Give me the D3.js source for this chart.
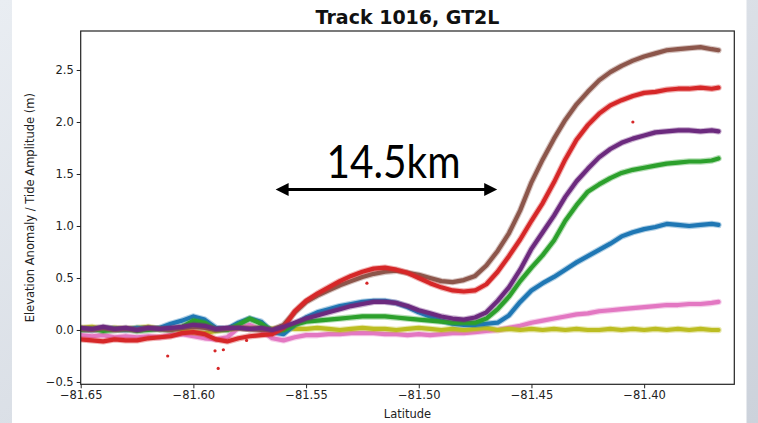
<!DOCTYPE html>
<html>
<head>
<meta charset="utf-8">
<script src="https://cdn.jsdelivr.net/npm/d3@7/dist/d3.min.js"></script>
<style>
  html, body { margin: 0; padding: 0; overflow: hidden; background: #fff; }
  svg { display: block; }
</style>
</head>
<body>
<svg id="chart" width="758" height="423"></svg>
<script>
// Along-track latitude samples (degrees)
const latitude = [
  -81.650, -81.645, -81.640, -81.635, -81.630, -81.625, -81.620, -81.615, -81.610, -81.605,
  -81.600, -81.595, -81.590, -81.585, -81.580, -81.575, -81.570, -81.565, -81.560, -81.555,
  -81.550, -81.545, -81.540, -81.535, -81.530, -81.525, -81.520, -81.515, -81.510, -81.505,
  -81.500, -81.495, -81.490, -81.485, -81.480, -81.475, -81.470, -81.465, -81.460, -81.455,
  -81.450, -81.445, -81.440, -81.435, -81.430, -81.425, -81.420, -81.415, -81.410, -81.405,
  -81.400, -81.395, -81.390, -81.385, -81.380, -81.375, -81.370, -81.367
];

// Elevation anomaly per repeat pass (m)
const passPink = [
  -0.05, -0.06, -0.05, -0.07, -0.06, -0.07, -0.06, -0.07, -0.05, -0.04,
  -0.06, -0.08, -0.09, -0.07, 0.02, 0.05, 0.00, -0.08, -0.10, -0.07,
  -0.05, -0.05, -0.04, -0.04, -0.03, -0.03, -0.03, -0.04, -0.04, -0.05,
  -0.04, -0.05, -0.04, -0.03, -0.03, -0.02, -0.01, 0.00, 0.02, 0.04,
  0.07, 0.09, 0.11, 0.13, 0.15, 0.16, 0.18, 0.19, 0.20, 0.21,
  0.22, 0.23, 0.24, 0.24, 0.25, 0.25, 0.26, 0.27
];
const passOlive = [
  0.02, 0.03, 0.01, 0.02, 0.01, 0.02, 0.03, 0.01, 0.02, 0.00,
  -0.02, -0.03, -0.01, 0.01, 0.02, 0.01, 0.02, 0.01, 0.02, 0.01,
  0.01, 0.02, 0.01, 0.00, 0.01, 0.02, 0.01, 0.01, 0.00, 0.01,
  0.02, 0.01, 0.00, 0.01, 0.00, 0.01, 0.02, 0.00, 0.01, 0.00,
  0.01, 0.00, 0.01, 0.00, 0.01, 0.00, 0.00, 0.01, 0.00, 0.01,
  0.00, 0.01, 0.00, 0.01, 0.00, 0.01, 0.00, 0.00
];
const passBlue = [
  0.01, 0.00, 0.02, 0.01, 0.00, 0.02, 0.01, 0.02, 0.06, 0.09,
  0.13, 0.10, 0.02, 0.01, 0.07, 0.11, 0.08, -0.02, -0.04, 0.05,
  0.12, 0.17, 0.20, 0.23, 0.25, 0.27, 0.28, 0.28, 0.26, 0.22,
  0.17, 0.13, 0.09, 0.06, 0.05, 0.05, 0.06, 0.07, 0.14, 0.27,
  0.38, 0.45, 0.51, 0.58, 0.65, 0.71, 0.77, 0.83, 0.90, 0.94,
  0.97, 0.99, 1.02, 1.01, 1.00, 1.01, 1.02, 1.01
];
const passGreen = [
  0.00, 0.01, -0.01, 0.00, 0.01, -0.01, 0.00, 0.01, 0.00, 0.03,
  0.09, 0.07, 0.00, 0.00, 0.05, 0.11, 0.06, -0.01, 0.00, 0.05,
  0.08, 0.09, 0.10, 0.11, 0.12, 0.13, 0.13, 0.13, 0.12, 0.11,
  0.10, 0.09, 0.08, 0.07, 0.07, 0.07, 0.11, 0.20, 0.32, 0.47,
  0.60, 0.72, 0.86, 1.05, 1.20, 1.33, 1.40, 1.46, 1.51, 1.54,
  1.56, 1.58, 1.60, 1.61, 1.62, 1.62, 1.63, 1.65
];
const passBrown = [
  0.01, 0.00, 0.02, 0.00, 0.01, 0.00, 0.02, 0.01, 0.00, 0.02,
  0.03, 0.02, 0.00, 0.01, 0.02, 0.01, 0.00, 0.00, 0.05, 0.17,
  0.27, 0.33, 0.38, 0.43, 0.47, 0.51, 0.54, 0.56, 0.57, 0.55,
  0.53, 0.50, 0.47, 0.46, 0.48, 0.52, 0.62, 0.76, 0.93, 1.15,
  1.42, 1.64, 1.84, 2.02, 2.17, 2.29, 2.40, 2.48, 2.54, 2.59,
  2.63, 2.66, 2.69, 2.70, 2.71, 2.72, 2.70, 2.69
];
const passRed = [
  -0.09, -0.10, -0.11, -0.09, -0.10, -0.10, -0.08, -0.07, -0.06, -0.03,
  -0.02, -0.04, -0.09, -0.11, -0.08, -0.06, -0.05, -0.04, 0.02, 0.18,
  0.28, 0.35, 0.41, 0.47, 0.52, 0.56, 0.59, 0.60, 0.58, 0.55,
  0.50, 0.45, 0.41, 0.38, 0.37, 0.38, 0.44, 0.56, 0.71, 0.87,
  1.05, 1.22, 1.42, 1.64, 1.83, 1.97, 2.08, 2.16, 2.21, 2.25,
  2.28, 2.29, 2.31, 2.32, 2.32, 2.33, 2.32, 2.33
];
const passPurple = [
  0.02, 0.01, 0.03, 0.01, 0.02, 0.00, 0.02, 0.01, 0.02, 0.03,
  0.05, 0.04, 0.01, 0.02, 0.02, 0.01, 0.02, 0.00, 0.03, 0.07,
  0.11, 0.14, 0.17, 0.20, 0.23, 0.25, 0.27, 0.27, 0.26, 0.23,
  0.19, 0.16, 0.13, 0.11, 0.10, 0.12, 0.17, 0.28, 0.41, 0.58,
  0.78, 0.94, 1.10, 1.28, 1.43, 1.55, 1.66, 1.74, 1.80, 1.84,
  1.87, 1.90, 1.91, 1.92, 1.92, 1.91, 1.92, 1.91
];

// Isolated returns off the red pass
const redOutlierLat = [-81.6114, -81.5890, -81.5904, -81.5867, -81.5764, -81.5230, -81.4050];
const redOutlierVal = [-0.25, -0.37, -0.20, -0.19, -0.10, 0.45, 2.00];

// Axis ticks
const xTicks = [-81.65, -81.60, -81.55, -81.50, -81.45, -81.40];
const yTicks = [-0.5, 0.0, 0.5, 1.0, 1.5, 2.0, 2.5];

const titleText = "Track 1016, GT2L";
const xLabel = "Latitude";
const yLabel = "Elevation Anomaly / Tide Amplitude (m)";
const spanLabel = "14.5km";
const spanLat = [-81.5635, -81.4652];
const spanLevel = 1.35;

// Passes in drawing order (later ones sit on top)
const passes = [
  { values: passPink,   color: "#e377c2" },
  { values: passOlive,  color: "#bcbd22" },
  { values: passBlue,   color: "#1f77b4" },
  { values: passGreen,  color: "#2ca02c" },
  { values: passBrown,  color: "#8c564b" },
  { values: passRed,    color: "#d62728" },
  { values: passPurple, color: "#6c2a7e" }
];

const W = 758, H = 423;
const plot = { left: 80.7, right: 734.3, top: 31, bottom: 384.3 };

const svg = d3.select("#chart");

// Slide backdrop and white figure panel
const defs = svg.append("defs");
const bg = defs.append("linearGradient").attr("id", "backdrop").attr("x1", 0).attr("x2", 1).attr("y1", 0).attr("y2", 1);
bg.append("stop").attr("offset", "0%").attr("stop-color", "#e9edf2");
bg.append("stop").attr("offset", "100%").attr("stop-color", "#ccd2db");
svg.append("rect").attr("width", W).attr("height", H).attr("fill", "url(#backdrop)");
svg.append("rect").attr("x", 12).attr("y", 0).attr("width", 734.5).attr("height", H).attr("fill", "#ffffff");

defs.append("clipPath").attr("id", "plotClip")
  .append("rect")
  .attr("x", plot.left).attr("y", plot.top)
  .attr("width", plot.right - plot.left).attr("height", plot.bottom - plot.top);

const x = d3.scaleLinear().domain([-81.65, -81.36]).range([plot.left, plot.right]);
const y = d3.scaleLinear().domain([-0.5223, 2.875]).range([plot.bottom, plot.top]);

const minus = s => s.replace("-", "\u2212");
const font = "DejaVu Sans, sans-serif";

// Data bands: a soft halo under a solid core, like dense overlapping markers
const gData = svg.append("g").attr("clip-path", "url(#plotClip)");
const line = d3.line().x((d, i) => x(latitude[i])).y(d => y(d));
passes.forEach(p => {
  gData.append("path")
    .datum(p.values)
    .attr("d", line)
    .attr("fill", "none")
    .attr("stroke", p.color)
    .attr("stroke-opacity", 0.35)
    .attr("stroke-width", 6.4)
    .attr("stroke-linejoin", "round")
    .attr("stroke-linecap", "round");
  gData.append("path")
    .datum(p.values)
    .attr("d", line)
    .attr("fill", "none")
    .attr("stroke", p.color)
    .attr("stroke-width", 4.2)
    .attr("stroke-linejoin", "round")
    .attr("stroke-linecap", "round");
});
gData.selectAll("circle.outlier")
  .data(redOutlierLat)
  .join("circle")
  .attr("class", "outlier")
  .attr("cx", d => x(d))
  .attr("cy", (d, i) => y(redOutlierVal[i]))
  .attr("r", 1.6)
  .attr("fill", "#d62728");

// Axes
const xAxis = d3.axisBottom(x).tickValues(xTicks).tickSize(4).tickPadding(3)
  .tickFormat(d => minus(d3.format(".2f")(d)));
const yAxis = d3.axisLeft(y).tickValues(yTicks).tickSize(4).tickPadding(3)
  .tickFormat(d => minus(d3.format(".1f")(d)));

const gx = svg.append("g").attr("transform", `translate(0,${plot.bottom})`).call(xAxis);
const gy = svg.append("g").attr("transform", `translate(${plot.left},0)`).call(yAxis);
[gx, gy].forEach(g => {
  g.select(".domain").remove();
  g.selectAll(".tick line").attr("stroke", "#222").attr("stroke-width", 1);
  g.selectAll(".tick text").attr("fill", "#222").style("font-family", font).style("font-size", "11.5px");
});

// Plot frame
svg.append("rect")
  .attr("x", plot.left).attr("y", plot.top)
  .attr("width", plot.right - plot.left).attr("height", plot.bottom - plot.top)
  .attr("fill", "none").attr("stroke", "#222").attr("stroke-width", 1.2);

// Titles
svg.append("text")
  .attr("x", (plot.left + plot.right) / 2).attr("y", 24)
  .attr("text-anchor", "middle")
  .style("font-family", font).style("font-size", "19px").style("font-weight", "bold")
  .attr("fill", "#111")
  .text(titleText);

svg.append("text")
  .attr("x", (plot.left + plot.right) / 2).attr("y", 418)
  .attr("text-anchor", "middle")
  .style("font-family", font).style("font-size", "11.5px")
  .attr("fill", "#222")
  .text(xLabel);

svg.append("text")
  .attr("transform", `translate(34,${(plot.top + plot.bottom) / 2}) rotate(-90)`)
  .attr("text-anchor", "middle")
  .style("font-family", font).style("font-size", "11.5px")
  .attr("fill", "#222")
  .text(yLabel);

// Span annotation: double-headed arrow with distance label
const ax0 = x(spanLat[0]), ax1 = x(spanLat[1]), ay = y(spanLevel);
const head = 13, half = 6.5;
svg.append("line")
  .attr("x1", ax0 + head - 1).attr("x2", ax1 - head + 1)
  .attr("y1", ay).attr("y2", ay)
  .attr("stroke", "#000").attr("stroke-width", 3);
svg.append("path")
  .attr("d", `M${ax0},${ay} L${ax0 + head},${ay - half} L${ax0 + head},${ay + half} Z`)
  .attr("fill", "#000");
svg.append("path")
  .attr("d", `M${ax1},${ay} L${ax1 - head},${ay - half} L${ax1 - head},${ay + half} Z`)
  .attr("fill", "#000");
svg.append("text")
  .attr("x", 326.5).attr("y", ay - 12)
  .attr("textLength", 134).attr("lengthAdjust", "spacingAndGlyphs")
  .style("font-family", "Lato, 'Open Sans', sans-serif").style("font-size", "46px")
  .attr("fill", "#000")
  .text(spanLabel);
</script>
</body>
</html>
